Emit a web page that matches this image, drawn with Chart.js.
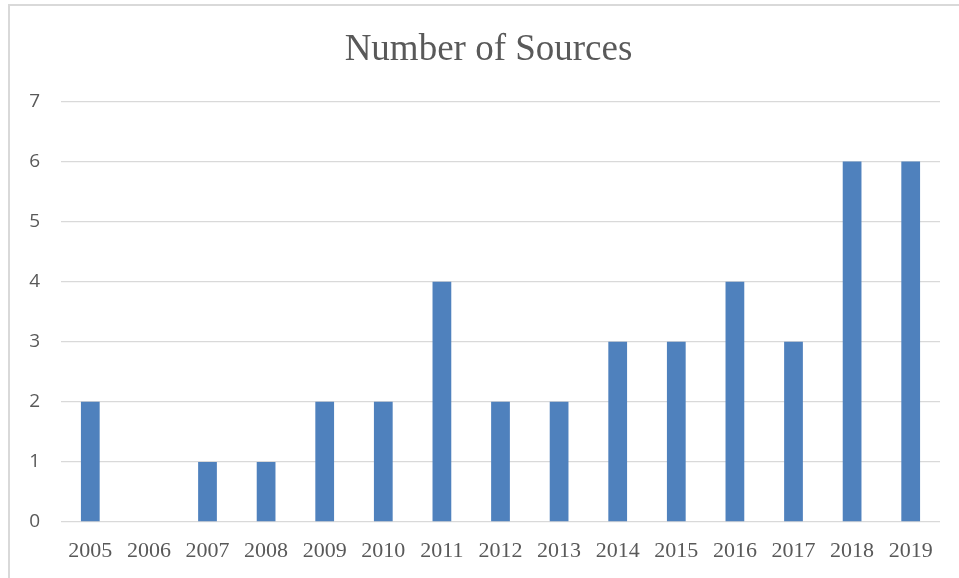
<!DOCTYPE html>
<html>
<head>
<meta charset="utf-8">
<script src="https://cdn.jsdelivr.net/npm/chart.js@4/dist/chart.umd.min.js"></script>
<style>
  html, body { margin: 0; padding: 0; background: #ffffff; width: 959px; height: 578px; overflow: hidden; }
  #frame { position: absolute; left: 8px; top: 4px; width: 960px; height: 600px; border-left: 2px solid #d9d9d9; border-top: 2px solid #d9d9d9; pointer-events: none; }
  #c { position: absolute; left: 0; top: 0; }
</style>
</head>
<body>
<canvas id="c" width="959" height="578"></canvas>
<div id="frame"></div>
<script>
const categories = ["2005","2006","2007","2008","2009","2010","2011","2012","2013","2014","2015","2016","2017","2018","2019"];
const sources = [2, 0, 1, 1, 2, 2, 4, 2, 2, 3, 3, 4, 3, 6, 6];
const yTicks = [0, 1, 2, 3, 4, 5, 6, 7];
const chartTitle = "Number of Sources";

new Chart(document.getElementById('c'), {
  type: 'bar',
  data: {
    labels: categories,
    datasets: [{
      label: 'Sources',
      data: sources,
      backgroundColor: '#4f81bd',
      borderWidth: 0,
      barPercentage: 0.32,
      categoryPercentage: 1.0,
      xAxisID: 'x',
      yAxisID: 'y'
    }]
  },
  options: {
    responsive: false,
    animation: false,
    layout: { padding: { left: 18, right: 0, top: 28, bottom: 0 } },
    plugins: {
      legend: { display: false },
      tooltip: { enabled: false },
      title: {
        display: true,
        text: chartTitle,
        color: '#595959',
        font: { family: '"Liberation Serif", "Times New Roman", serif', size: 37, weight: 'normal' },
        padding: { top: 0, bottom: 29 }
      }
    },
    scales: {
      x: {
        grid: { display: false, drawTicks: false },
        border: { display: false },
        ticks: {
          color: '#595959',
          font: { family: '"Liberation Serif", "Times New Roman", serif', size: 22 },
          padding: 16,
          maxRotation: 0,
          autoSkip: false
        },
        afterFit: (s) => { s.height = 56; }
      },
      y: {
        position: 'left',
        min: 0,
        max: 7,
        afterBuildTicks: (s) => { s.ticks = yTicks.map(v => ({ value: v })); },
        grid: { color: '#d9d9d9', lineWidth: 1.3, drawTicks: false },
        border: { display: false },
        ticks: {
          color: '#595959',
          font: { family: '"Open Sans", "Noto Sans", sans-serif', size: 19 },
          padding: 21
        },
        afterFit: (s) => { s.width = 43; }
      },
      yRightSpace: {
        position: 'right',
        display: true,
        grid: { display: false, drawTicks: false },
        border: { display: false },
        ticks: { display: false },
        afterFit: (s) => { s.width = 19; }
      }
    }
  }
});
</script>
</body>
</html>
